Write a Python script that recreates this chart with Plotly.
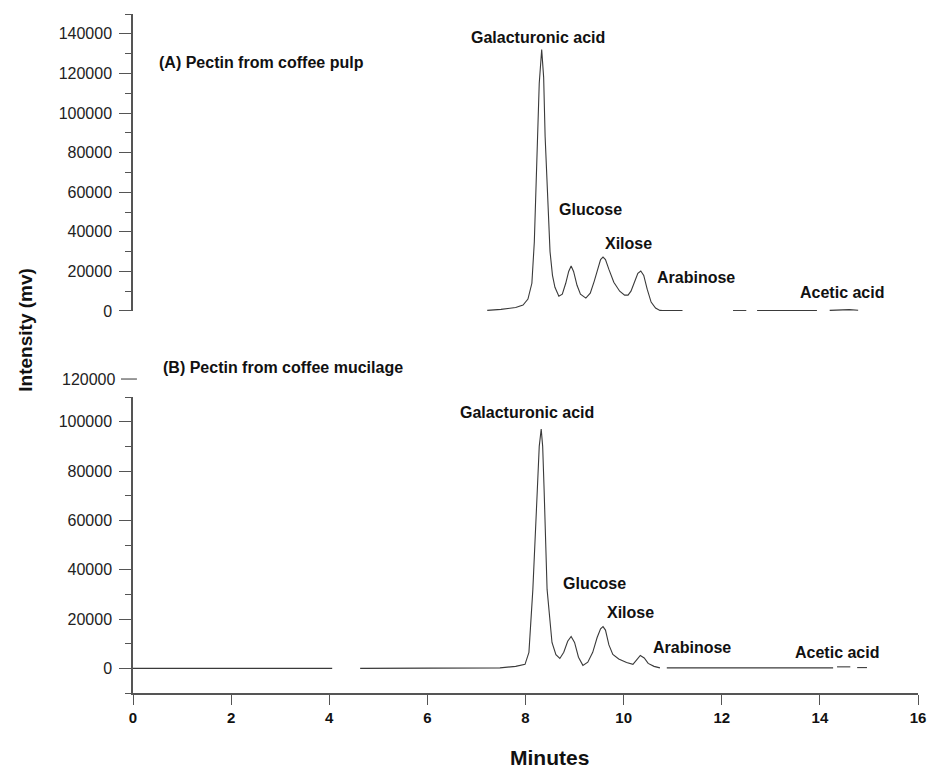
import plotly.graph_objects as go

# ---------------- data ----------------
# (A) Pectin from coffee pulp  (time in minutes, intensity in mV)
time_a = [7.22, 7.5, 7.8, 7.95, 8.05, 8.13, 8.18, 8.23, 8.28, 8.33, 8.37, 8.40, 8.45, 8.50,
          8.55, 8.60, 8.68, 8.75, 8.82, 8.88, 8.93, 8.98, 9.05, 9.12, 9.23, 9.32, 9.40, 9.47,
          9.53, 9.58, 9.63, 9.70, 9.80, 9.92, 10.02, 10.09, 10.15, 10.22, 10.29, 10.35, 10.41,
          10.48, 10.56, 10.65, 10.74, 10.8, 11.2, None, 12.23, 12.5, None, 12.72, 13.94, None,
          14.2, 14.4, 14.5, 14.6, 14.78]
intensity_a = [300, 800, 1800, 3000, 6000, 14000, 35000, 75000, 115000, 132000, 118000, 88000,
               55000, 30000, 18000, 12000, 7500, 8500, 14000, 20000, 22700, 20000, 13000, 8500,
               6500, 9000, 15000, 21500, 26000, 27200, 26000, 21000, 14500, 10000, 8000, 8000,
               10000, 14500, 19000, 20200, 18000, 11000, 4500, 1500, 300, 200, 200, None, 200,
               200, None, 200, 200, None, 300, 600, 900, 700, 400]

# (B) Pectin from coffee mucilage
time_b = [0, 4.06, None, 4.63, 7.48, 7.8, 7.99, 8.07, 8.15, 8.24, 8.28, 8.32, 8.35, 8.38, 8.44,
          8.54, 8.62, 8.70, 8.78, 8.86, 8.93, 9.00, 9.08, 9.17, 9.27, 9.37, 9.46, 9.53, 9.58,
          9.63, 9.70, 9.78, 9.90, 10.06, 10.19, 10.27, 10.34, 10.42, 10.50, 10.62, 10.74, None,
          10.88, 14.27, None, 14.35, 14.62, None, 14.76, 14.96]
intensity_b = [0, 0, None, 0, 200, 800, 1600, 6500, 32000, 72000, 90000, 97000, 90000, 72000,
               32000, 10500, 5500, 4000, 6500, 11000, 12900, 10500, 4500, 1200, 2500, 6500,
               12500, 16000, 16900, 15500, 9500, 5600, 3800, 2400, 1600, 3500, 5200, 4200, 2000,
               800, 200, None, 200, 200, None, 600, 600, None, 300, 300]

peak_names = ["Galacturonic acid", "Glucose", "Xilose", "Arabinose", "Acetic acid"]
panel_titles = ["(A) Pectin from coffee pulp", "(B) Pectin from coffee mucilage"]

x_ticks = [0, 2, 4, 6, 8, 10, 12, 14, 16]
y_ticks_a = [0, 20000, 40000, 60000, 80000, 100000, 120000, 140000]
y_ticks_b = [0, 20000, 40000, 60000, 80000, 100000]
x_title = "Minutes"
y_title = "Intensity (mv)"

# ---------------- figure ----------------
LINE = "#3a3a3a"
AXIS = "#555555"
FONT = "Liberation Sans, Arial, sans-serif"

fig = go.Figure()
fig.add_trace(go.Scatter(x=time_a, y=intensity_a, mode="lines", xaxis="x2", yaxis="y2",
                         line=dict(color=LINE, width=1.1), connectgaps=False, showlegend=False))
fig.add_trace(go.Scatter(x=time_b, y=intensity_b, mode="lines", xaxis="x", yaxis="y",
                         line=dict(color=LINE, width=1.1), connectgaps=False, showlegend=False))

common_y = dict(showgrid=False, zeroline=False, showline=True, linecolor=AXIS, linewidth=1.5,
                ticks="outside", ticklen=12, tickwidth=1.2, tickcolor=AXIS, tickformat="d",
                automargin=False,
                tickfont=dict(family=FONT, size=16, color="#222"),
                minor=dict(ticks="outside", ticklen=6, tickwidth=1.2, tickcolor=AXIS, dtick=10000,
                           tick0=10000),
                ticklabelstandoff=4)

# page body has an 8px default margin, so the figure is sized 8px smaller
fig.update_layout(
    width=927, height=761,
    margin=dict(l=125, r=17, t=6, b=76),
    paper_bgcolor="white", plot_bgcolor="white",
    font=dict(family=FONT, color="#111"),
    xaxis=dict(domain=[0, 1], anchor="y", range=[0, 16], tickvals=x_ticks, automargin=False,
               showgrid=False, zeroline=False, showline=True, linecolor=AXIS, linewidth=1.5,
               ticks="outside", ticklen=10, tickwidth=1.2, tickcolor=AXIS,
               tickfont=dict(family=FONT, size=15, color="#111", weight="bold")),
    xaxis2=dict(domain=[0, 1], anchor="y2", range=[0, 16], matches="x", visible=False,
                automargin=False),
    yaxis=dict(domain=[0, 0.4359], anchor="x", range=[-10000, 110000], tickvals=y_ticks_b,
               **common_y),
    yaxis2=dict(domain=[0.5626, 1], anchor="x2", range=[0, 150000], tickvals=y_ticks_a,
                **common_y),
)

ann_font = dict(family=FONT, size=16, color="#111", weight="bold")
# panel titles
fig.add_annotation(text=panel_titles[0], xref="x2", yref="y2", x=0.49, y=125500,
                   xanchor="left", yanchor="middle", showarrow=False, font=ann_font)
fig.add_annotation(text=panel_titles[1], xref="x", yref="paper", x=0.57, y=0.480,
                   xanchor="left", yanchor="middle", showarrow=False, font=ann_font)

# peak labels, panel A
pos_a = [(8.26, 138100, "center"), (8.64, 51400, "left"), (9.58, 34300, "left"),
         (10.64, 17100, "left"), (13.55, 9100, "left")]
for name, (px, py, anc) in zip(peak_names, pos_a):
    fig.add_annotation(text=name, xref="x2", yref="y2", x=px, y=py, xanchor=anc,
                       yanchor="middle", showarrow=False, font=ann_font)
# peak labels, panel B
pos_b = [(8.03, 103600, "center"), (8.72, 34300, "left"), (9.62, 22600, "left"),
         (10.56, 8500, "left"), (13.45, 6500, "left")]
for name, (px, py, anc) in zip(peak_names, pos_b):
    fig.add_annotation(text=name, xref="x", yref="y", x=px, y=py, xanchor=anc,
                       yanchor="middle", showarrow=False, font=ann_font)

# stray 120000 tick label above lower axis (as in the original figure)
fig.add_annotation(text="120000", xref="paper", yref="paper", x=0, y=0.4624, xshift=-16,
                   xanchor="right", yanchor="middle", showarrow=False,
                   font=dict(family=FONT, size=16, color="#222"))
fig.add_shape(type="line", xref="paper", yref="paper", x0=-0.0153, x1=0.005, y0=0.4624,
              y1=0.4624, line=dict(color=AXIS, width=1.2))

# axis titles
fig.add_annotation(text=x_title, xref="paper", yref="paper", x=0.531, y=-0.0957,
                   xanchor="center", yanchor="middle", showarrow=False,
                   font=dict(family=FONT, size=21, color="#111", weight="bold"))
fig.add_annotation(text=y_title, xref="paper", yref="paper", x=-0.138, y=0.5346,
                   xanchor="center", yanchor="middle", textangle=-90, showarrow=False,
                   font=dict(family=FONT, size=19, color="#111", weight="bold"))

fig.write_html("out.html")
